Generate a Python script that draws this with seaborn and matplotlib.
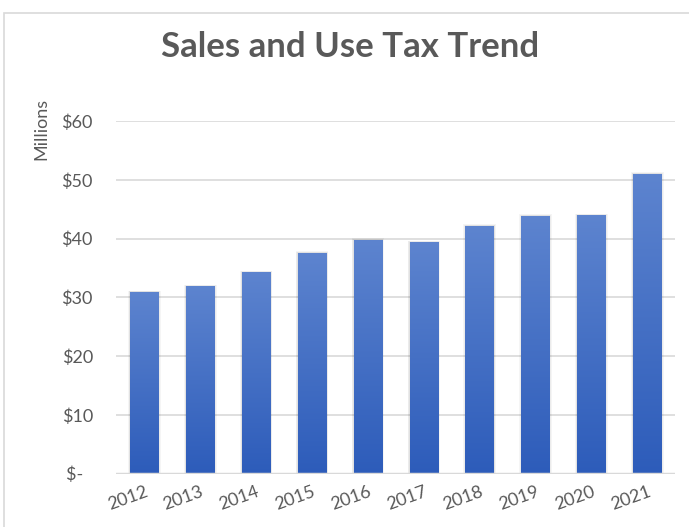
import numpy as np
import pandas as pd
import matplotlib
matplotlib.use("Agg")
import matplotlib.pyplot as plt
from matplotlib.patches import Rectangle
from matplotlib.colors import LinearSegmentedColormap
import seaborn as sns

# Datos del gráfico (millones de dólares)
anios = ["2012", "2013", "2014", "2015", "2016", "2017", "2018", "2019", "2020", "2021"]
recaudacion = [30.9, 31.9, 34.3, 37.6, 39.8, 39.4, 42.2, 43.9, 44.0, 51.0]
ticks_y = [0, 10, 20, 30, 40, 50, 60]
etiquetas_y = ["$-  ", "$10", "$20", "$30", "$40", "$50", "$60"]

df = pd.DataFrame({"anio": anios, "valor": recaudacion})

sns.set_style("white")
plt.rcParams["font.family"] = ["Lato", "DejaVu Sans"]
gris = "#595959"

fig = plt.figure(figsize=(6.89, 5.27), dpi=100)
ax = fig.add_axes([0.169, 0.1015, 0.811, 0.6689])

sns.barplot(data=df, x="anio", y="valor", width=0.51, color="#4472C4", ax=ax, zorder=3)

# degradado azul en cada barra + sombra suave
cmap = LinearSegmentedColormap.from_list("azul", ["#2D5CBA", "#5D84CF"])
grad = np.linspace(0, 1, 256).reshape(-1, 1)
for p in ax.patches:
    x0, y0 = p.get_x(), p.get_y()
    w, h = p.get_width(), p.get_height()
    for k in range(1, 4):
        dx = 0.012 * k
        dy = 0.08 * k
        ax.add_patch(Rectangle((x0 - dx, y0), w + 2 * dx, h + dy,
                               facecolor="black", alpha=0.04, lw=0, zorder=2))
    p.set_facecolor("none")
    p.set_edgecolor("none")
    img = ax.imshow(grad, extent=(x0, x0 + w, y0, y0 + h), origin="lower",
                    cmap=cmap, aspect="auto", zorder=3)
    img.set_clip_path(p)

ax.set_xlim(-0.5, len(anios) - 0.5)
ax.set_ylim(0, 60)
ax.set_yticks(ticks_y)
ax.set_yticklabels(etiquetas_y)
ax.yaxis.grid(True, color="#D9D9D9", lw=1.2, zorder=0)
ax.axhline(0, color="#D9D9D9", lw=2.5, zorder=4)
sns.despine(ax=ax, left=True, bottom=True)
ax.tick_params(axis="y", length=0, pad=17, labelsize=13, labelcolor=gris)
ax.tick_params(axis="x", length=0, pad=7, labelsize=13, labelcolor=gris)
for t in ax.get_xticklabels():
    t.set_rotation(20)
    t.set_ha("right")
    t.set_rotation_mode("anchor")
ax.set_xlabel("")
ax.set_ylabel("")

fig.text(41 / 689, 1 - 129 / 527, "Millions", rotation=90, ha="center", va="center",
         fontsize=13, color=gris)
fig.text(0.508, 1 - 47 / 527, "Sales and Use Tax Trend", ha="center", va="center",
         fontsize=25, fontweight="bold", color=gris)

# marco del área del gráfico
fig.add_artist(Rectangle((4 / 689, -0.1), 1.1, 1 - 13 / 527 + 0.1, transform=fig.transFigure,
                         facecolor="none", edgecolor="#D9D9D9", lw=1.2))

fig.savefig("out.png", dpi=100)
